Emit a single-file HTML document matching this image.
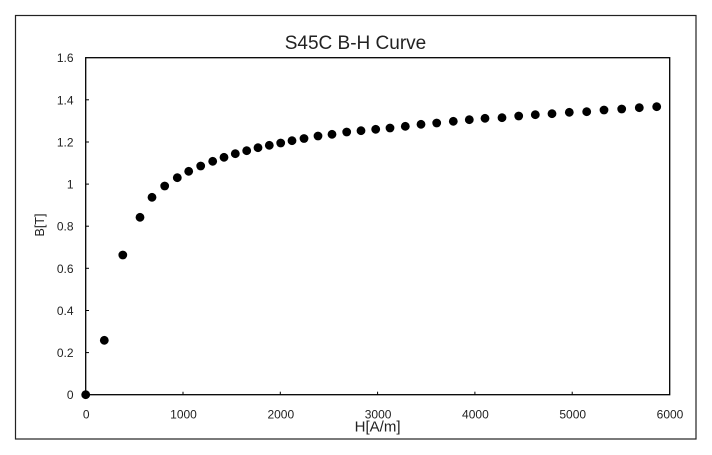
<!DOCTYPE html>
<html>
<head>
<meta charset="utf-8">
<style>
  html, body { margin: 0; padding: 0; background: #fff; }
  svg { display: block; }
  text { font-family: "Liberation Sans", "DejaVu Sans", sans-serif; fill: #222; }
</style>
</head>
<body>
<svg width="712" height="455" viewBox="0 0 712 455" xmlns="http://www.w3.org/2000/svg">
  <rect x="0" y="0" width="712" height="455" fill="#fff"/>
  <rect x="15.5" y="15.5" width="680.5" height="423.5" fill="none" stroke="#222" stroke-width="1.2"/>
  <text x="355.5" y="49" font-size="19" text-anchor="middle" fill="#111">S45C B-H Curve</text>
  <rect x="85.7" y="57.7" width="584" height="337" fill="none" stroke="#000" stroke-width="1.3"/>
  <g stroke="#000" stroke-width="1">
    <line x1="85.7" y1="352.6" x2="89" y2="352.6"/>
    <line x1="85.7" y1="310.5" x2="89" y2="310.5"/>
    <line x1="85.7" y1="268.3" x2="89" y2="268.3"/>
    <line x1="85.7" y1="226.2" x2="89" y2="226.2"/>
    <line x1="85.7" y1="184.1" x2="89" y2="184.1"/>
    <line x1="85.7" y1="142.0" x2="89" y2="142.0"/>
    <line x1="85.7" y1="99.8" x2="89" y2="99.8"/>
    <line x1="183" y1="394.7" x2="183" y2="391.7"/>
    <line x1="280.3" y1="394.7" x2="280.3" y2="391.7"/>
    <line x1="377.6" y1="394.7" x2="377.6" y2="391.7"/>
    <line x1="474.9" y1="394.7" x2="474.9" y2="391.7"/>
    <line x1="572.2" y1="394.7" x2="572.2" y2="391.7"/>
  </g>
  <g font-size="12" text-anchor="end">
    <text x="73.5" y="399.2">0</text>
    <text x="73.5" y="357.1">0.2</text>
    <text x="73.5" y="315">0.4</text>
    <text x="73.5" y="272.8">0.6</text>
    <text x="73.5" y="230.7">0.8</text>
    <text x="73.5" y="188.6">1</text>
    <text x="73.5" y="146.5">1.2</text>
    <text x="73.5" y="104.3">1.4</text>
    <text x="73.5" y="62.2">1.6</text>
  </g>
  <g font-size="12" text-anchor="middle">
    <text x="86.2" y="418.3">0</text>
    <text x="183.5" y="418.3">1000</text>
    <text x="280.8" y="418.3">2000</text>
    <text x="378.1" y="418.3">3000</text>
    <text x="475.4" y="418.3">4000</text>
    <text x="572.7" y="418.3">5000</text>
    <text x="670" y="418.3">6000</text>
  </g>
  <text x="377.6" y="431.5" font-size="15" text-anchor="middle">H[A/m]</text>
  <text x="0" y="0" font-size="12.5" text-anchor="middle" transform="translate(43.8,225) rotate(-90)">B[T]</text>
  <g fill="#000">
    <circle cx="85.7" cy="394.7" r="4.4"/>
    <circle cx="104.3" cy="340.3" r="4.4"/>
    <circle cx="122.8" cy="255" r="4.4"/>
    <circle cx="140" cy="217.3" r="4.4"/>
    <circle cx="152" cy="197.3" r="4.4"/>
    <circle cx="164.7" cy="186" r="4.4"/>
    <circle cx="177.3" cy="177.7" r="4.4"/>
    <circle cx="188.7" cy="171.3" r="4.4"/>
    <circle cx="200.7" cy="166" r="4.4"/>
    <circle cx="212.7" cy="161.3" r="4.4"/>
    <circle cx="224" cy="157.3" r="4.4"/>
    <circle cx="235.3" cy="153.7" r="4.4"/>
    <circle cx="246.7" cy="150.7" r="4.4"/>
    <circle cx="258" cy="147.7" r="4.4"/>
    <circle cx="269.3" cy="145.3" r="4.4"/>
    <circle cx="280.7" cy="143" r="4.4"/>
    <circle cx="292" cy="140.7" r="4.4"/>
    <circle cx="304" cy="138.5" r="4.4"/>
    <circle cx="318" cy="136" r="4.4"/>
    <circle cx="332" cy="134.3" r="4.4"/>
    <circle cx="346.7" cy="132" r="4.4"/>
    <circle cx="361" cy="130.7" r="4.4"/>
    <circle cx="375.7" cy="129.3" r="4.4"/>
    <circle cx="390" cy="128" r="4.4"/>
    <circle cx="405.3" cy="126.3" r="4.4"/>
    <circle cx="421" cy="124.3" r="4.4"/>
    <circle cx="436.7" cy="123" r="4.4"/>
    <circle cx="453.3" cy="121.3" r="4.4"/>
    <circle cx="469.3" cy="119.7" r="4.4"/>
    <circle cx="485" cy="118.3" r="4.4"/>
    <circle cx="502" cy="117.7" r="4.4"/>
    <circle cx="518.7" cy="116" r="4.4"/>
    <circle cx="535.3" cy="114.7" r="4.4"/>
    <circle cx="552" cy="113.7" r="4.4"/>
    <circle cx="569.3" cy="112.3" r="4.4"/>
    <circle cx="586.7" cy="111.7" r="4.4"/>
    <circle cx="604" cy="110" r="4.4"/>
    <circle cx="621.7" cy="109" r="4.4"/>
    <circle cx="639.3" cy="107.7" r="4.4"/>
    <circle cx="656.7" cy="106.7" r="4.4"/>
  </g>
</svg>
</body>
</html>
